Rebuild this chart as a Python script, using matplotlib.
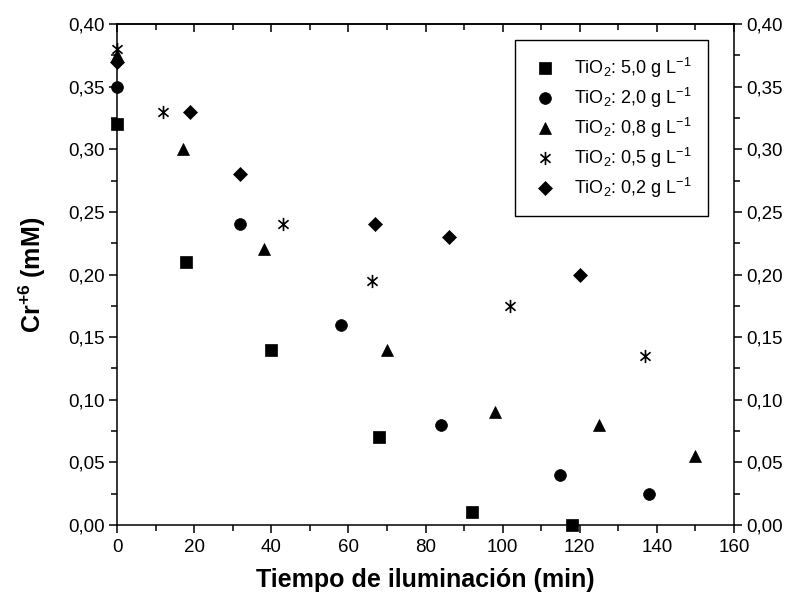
import matplotlib
matplotlib.use('Agg')
import numpy as np
import matplotlib.pyplot as plt
from matplotlib.path import Path
from matplotlib.ticker import MultipleLocator, FuncFormatter

plt.rcParams['font.family'] = ['Liberation Sans', 'DejaVu Sans']
plt.rcParams['mathtext.fontset'] = 'custom'
plt.rcParams['mathtext.rm'] = 'Liberation Sans'
plt.rcParams['mathtext.it'] = 'Liberation Sans:italic'
plt.rcParams['mathtext.bf'] = 'Liberation Sans:bold'

# datos (tiempo en min, Cr+6 en mM)
t_50 = [0, 18, 40, 68, 92, 118]
c_50 = [0.32, 0.21, 0.14, 0.07, 0.01, 0.0]

t_20 = [0, 32, 58, 84, 115, 138]
c_20 = [0.35, 0.24, 0.16, 0.08, 0.04, 0.025]

t_08 = [0, 17, 38, 70, 98, 125, 150]
c_08 = [0.375, 0.30, 0.22, 0.14, 0.09, 0.08, 0.055]

t_05 = [0, 12, 43, 66, 102, 137]
c_05 = [0.38, 0.33, 0.24, 0.195, 0.175, 0.135]

t_02 = [0, 19, 32, 67, 86, 120]
c_02 = [0.37, 0.33, 0.28, 0.24, 0.23, 0.20]

labels = ['5,0', '2,0', '0,8', '0,5', '0,2']

# asterisco: linea vertical + X
a = np.deg2rad(40)
ca, sa = np.cos(a), np.sin(a)
star = Path([(0, -1), (0, 1), (-ca, -sa), (ca, sa), (-ca, sa), (ca, -sa)],
            [Path.MOVETO, Path.LINETO] * 3)

series = [
    (t_50, c_50, 's', 8),
    (t_20, c_20, 'o', 8.5),
    (t_08, c_08, '^', 9),
    (t_05, c_05, star, 9.5),
    (t_02, c_02, 'D', 7),
]

fig = plt.figure(figsize=(7.94, 6.0), dpi=100)
ax = fig.add_axes([0.1474, 0.125, 0.777, 0.835])

for (t, c, m, ms), lab in zip(series, labels):
    ax.plot(t, c, linestyle='none', marker=m, markersize=ms, color='black',
            markeredgewidth=1.2 if m is star else 0.5,
            label=r'TiO$_2$: ' + lab + r' g L$^{-1}$', clip_on=False, zorder=3)

ax.set_xlim(0, 160)
ax.set_ylim(0, 0.40)

ax.xaxis.set_major_locator(MultipleLocator(20))
ax.xaxis.set_minor_locator(MultipleLocator(10))
ax.yaxis.set_major_locator(MultipleLocator(0.05))
ax.yaxis.set_minor_locator(MultipleLocator(0.025))
ax.yaxis.set_major_formatter(FuncFormatter(lambda v, p: f'{v:.2f}'.replace('.', ',')))
ax.xaxis.set_major_formatter(FuncFormatter(lambda v, p: f'{v:.0f}'))

ax.tick_params(axis='both', which='major', direction='out', length=6, width=1.1,
               labelsize=13.5, top=False)
ax.tick_params(axis='both', which='minor', direction='out', length=4, width=1.1, top=False)
ax.tick_params(axis='y', which='both', left=True, right=True, labelleft=True, labelright=True)
ax.tick_params(axis='y', pad=3)
ax.tick_params(axis='x', pad=4)

# ticks superiores hacia adentro, sin etiquetas
secx = ax.secondary_xaxis('top')
secx.xaxis.set_major_locator(MultipleLocator(20))
secx.xaxis.set_minor_locator(MultipleLocator(10))
secx.tick_params(axis='x', which='major', direction='in', length=6, width=1.1, labeltop=False)
secx.tick_params(axis='x', which='minor', direction='in', length=4, width=1.1)
secx.spines['top'].set_linewidth(1.1)

for s in ax.spines.values():
    s.set_linewidth(1.1)

ax.set_xlabel('Tiempo de iluminación (min)', fontsize=18, fontweight='bold', labelpad=9)
ax.set_ylabel(r'Cr$^{\mathbf{+6}}$ (mM)', fontsize=18, fontweight='bold', labelpad=14)

leg = ax.legend(loc='upper right', bbox_to_anchor=(0.958, 0.968), borderaxespad=0,
                fontsize=13, frameon=True, fancybox=False, edgecolor='black',
                framealpha=1, handletextpad=0.8, labelspacing=0.32, borderpad=0.9,
                handlelength=1.6)
leg.get_frame().set_linewidth(1.0)

fig.savefig('out.png', dpi=100, facecolor='white')
